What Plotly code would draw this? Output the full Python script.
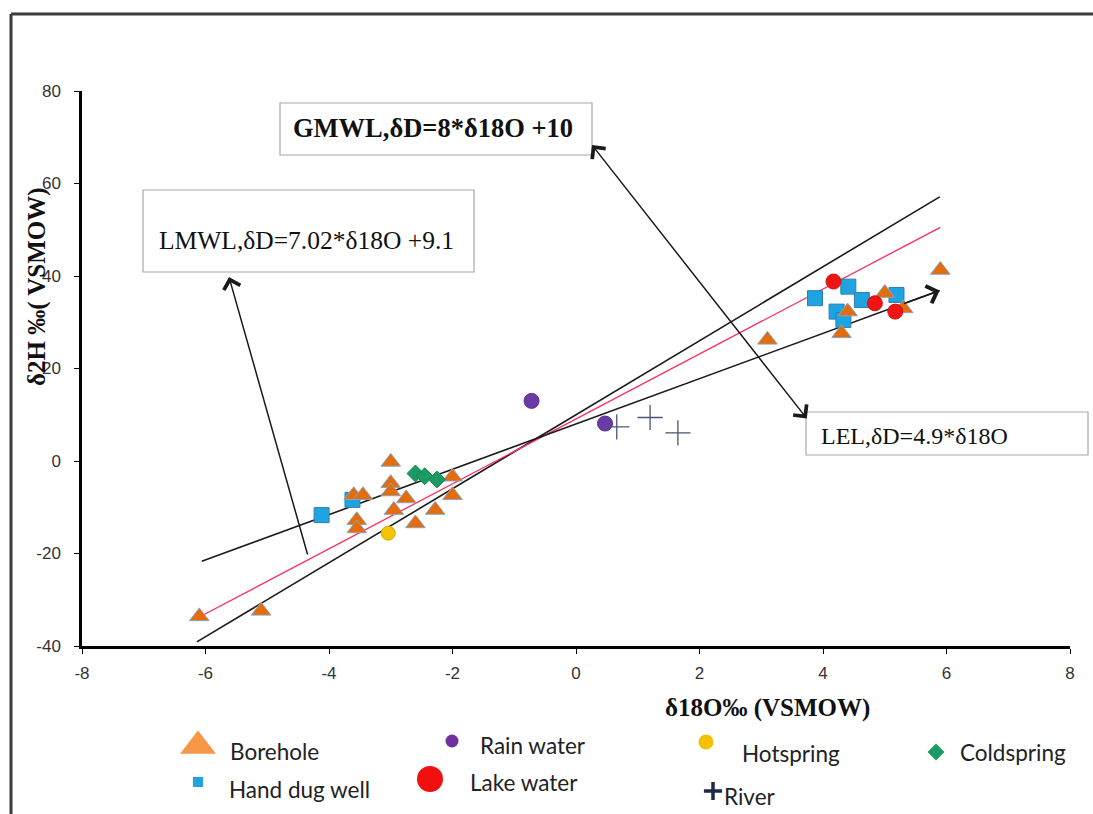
import plotly.graph_objects as go

W, H = 1093, 814

# ---- isotope data: δ18O (‰, x) and δ2H (‰, y) vs VSMOW ----
borehole_x = [-6.1, -5.1, -3.0, -3.0, -3.0, -3.6, -3.45, -2.75, -2.95, -3.55, -3.55, -2.6, -2.28, -2.0, -2.0,
              3.1, 4.3, 4.4, 5.0, 5.3, 5.9]
borehole_y = [-33.6, -32.4, -0.2, -4.8, -6.6, -7.4, -7.4, -8.1, -10.6, -12.8, -14.6, -13.5, -10.6, -3.4, -7.4,
              26.2, 27.6, 32.3, 36.3, 33.0, 41.3]

handdug_x = [-4.12, -3.62, 3.87, 4.22, 4.33, 4.41, 4.63, 5.19]
handdug_y = [-11.7, -8.4, 35.2, 32.3, 30.5, 37.7, 34.8, 35.9]

rain_x = [-0.72, 0.47]
rain_y = [13.0, 8.1]

lake_x = [4.17, 4.84, 5.17]
lake_y = [38.8, 34.1, 32.3]

hot_x = [-3.04]
hot_y = [-15.6]

cold_x = [-2.6, -2.45, -2.25]
cold_y = [-2.7, -3.3, -4.0]

river_x = [0.66, 1.2, 1.65]
river_y = [7.4, 9.4, 6.1]

# ---- water lines: δD = slope * δ18O + intercept ----
line_names = ["GMWL", "LMWL", "LEL"]
line_slopes = [8.0, 7.02, 4.9]
line_intercepts = [10.0, 9.1, 8.0]
line_x_start = [-6.14, -6.1, -6.06]
line_x_end = [5.89, 5.9, 5.89]

x_ticks = [-8, -6, -4, -2, 0, 2, 4, 6, 8]
x_tick_labels = ["-8", "-6", "-4", "-2", "0", "2", "4", "6", "8"]
y_ticks = [-40, -20, 0, 20, 40, 60, 80]
y_tick_labels = ["-40", "-20", "0", "20", "40", "60", "80"]

# plot-area frame in page pixels
PX_L, PX_R, PX_T, PX_B = 82, 1070, 91, 646

fig = go.Figure()

def add_series(name, xs, ys, symbol, size, color, edge, edge_w=1):
    fig.add_trace(go.Scatter(
        x=xs, y=ys, mode="markers", name=name, showlegend=False,
        marker=dict(symbol=symbol, size=size, color=color,
                    line=dict(color=edge, width=edge_w)),
        xaxis="x", yaxis="y"))

# regression / reference lines
line_colors = ["#1a1a1a", "#ff2a55", "#1a1a1a"]
line_widths = [1.6, 1.3, 1.6]
for nm, m, b, x0, x1, c, w in zip(line_names, line_slopes, line_intercepts,
                                  line_x_start, line_x_end, line_colors, line_widths):
    fig.add_trace(go.Scatter(x=[x0, x1], y=[m * x0 + b, m * x1 + b], mode="lines",
                             line=dict(color=c, width=w), showlegend=False,
                             hoverinfo="skip", xaxis="x", yaxis="y"))

add_series("Hand dug well", handdug_x, handdug_y, "square", 15, "#1ea4e0", "#2f7fae")
add_series("Rain water", rain_x, rain_y, "circle", 15, "#6a3aa8", "#5a3090")
add_series("Borehole", borehole_x, borehole_y, "triangle-up", 17, "#e46c0a", "#8aa2c2")
add_series("Lake water", lake_x, lake_y, "circle", 15, "#f01414", "#d01010")
add_series("Hotspring", hot_x, hot_y, "circle", 14, "#f4c400", "#d9a800")
add_series("Coldspring", cold_x, cold_y, "diamond", 13, "#1c9a64", "#178a58")
add_series("River", river_x, river_y, "cross-thin", 18, "#4a5575", "#4a5575", 1.3)

# arrowhead at the end of the LEL line
lel = line_names.index("LEL")
xe = line_x_end[lel]
xa = xe - 0.6
fig.add_annotation(x=xe, y=line_slopes[lel] * xe + line_intercepts[lel],
                   ax=xa, ay=line_slopes[lel] * xa + line_intercepts[lel],
                   xref="x", yref="y", axref="x", ayref="y", text="",
                   showarrow=True, arrowhead=4, arrowsize=2.2, arrowwidth=1.6,
                   arrowcolor="#1a1a1a")

# ---- manual legend, drawn on a pixel-space overlay axis ----
legend_labels = ["Borehole", "Rain water", "Hotspring", "Coldspring",
                 "Hand dug well", "Lake water", "River"]
legend_marker_xy = [(198, 746), (452, 741), (706, 742), (936, 752),
                    (198, 782), (430, 779), (713, 791)]
legend_text_xy = [(228, 751), (478, 745), (740, 753), (958, 752),
                  (227, 789), (468, 782), (722, 796)]
legend_styles = [("triangle-up", 31, "#f79646", 0),
                 ("circle", 13, "#7030a0", 0),
                 ("circle", 15, "#f2c200", 0),
                 ("diamond", 13, "#1c9a64", 0),
                 ("square", 10, "#1ea4e0", 0),
                 ("circle", 26, "#f01010", 0),
                 ("cross-thin", 13, "#1f2a4a", 3.5)]

for (mx, my), (sym, sz, col, lw) in zip(legend_marker_xy, legend_styles):
    fig.add_trace(go.Scatter(x=[mx], y=[my], mode="markers", showlegend=False,
                             hoverinfo="skip", xaxis="x2", yaxis="y2",
                             marker=dict(symbol=sym, size=sz, color=col,
                                         line=dict(color=col, width=lw))))
for (tx, ty), lab in zip(legend_text_xy, legend_labels):
    fig.add_annotation(x=tx, y=ty, xref="x2", yref="y2", text=lab, showarrow=False,
                       xanchor="left", yanchor="middle",
                       font=dict(family="Lato", size=22.5, color="#222222"))

# ---- equation boxes ----
boxes = [
    dict(x0=143, y0=190, x1=474, y1=272, tx=157, ty=240, size=25.5,
         text="LMWL,δD=7.02*δ18O +9.1"),
    dict(x0=280, y0=103, x1=592, y1=155, tx=291, ty=128, size=26.5,
         text="<b>GMWL,δD=8*δ18O +10</b>"),
    dict(x0=806, y0=412, x1=1088, y1=455, tx=819, ty=436, size=24,
         text="LEL,δD=4.9*δ18O"),
]
for b in boxes:
    fig.add_shape(type="rect", xref="x2", yref="y2", x0=b["x0"], y0=b["y0"],
                  x1=b["x1"], y1=b["y1"], line=dict(color="#a8a8a8", width=1.2),
                  fillcolor="white", layer="above")
    fig.add_annotation(x=b["tx"], y=b["ty"], xref="x2", yref="y2", text=b["text"],
                       showarrow=False, xanchor="left", yanchor="middle",
                       font=dict(family="Liberation Serif", size=b["size"], color="#111111"))

# pointer arrows from the lines to their boxes
fig.add_annotation(x=229, y=277, ax=308, ay=556, xref="x2", yref="y2",
                   axref="x2", ayref="y2", text="", showarrow=True,
                   arrowhead=4, arrowsize=2.2, arrowwidth=1.5, arrowcolor="#1a1a1a")
fig.add_annotation(x=592, y=145, ax=808, ay=420, xref="x2", yref="y2",
                   axref="x2", ayref="y2", text="", showarrow=True,
                   arrowside="end+start", arrowhead=4, startarrowhead=4,
                   arrowsize=2.2, startarrowsize=2.2, arrowwidth=1.5,
                   arrowcolor="#1a1a1a")

# axis titles
fig.add_annotation(x=767, y=708, xref="x2", yref="y2", text="<b>δ18O‰ (VSMOW)</b>",
                   showarrow=False, font=dict(family="Liberation Serif", size=25, color="#111111"))
fig.add_annotation(x=37, y=287, xref="x2", yref="y2", text="<b>δ2H ‰( VSMOW)</b>",
                   showarrow=False, textangle=-90,
                   font=dict(family="Liberation Serif", size=25, color="#111111"))

# outer frame (left and top edges)
fig.add_shape(type="line", xref="x2", yref="y2", x0=11, y0=14, x1=11, y1=H,
              line=dict(color="#3c3c3c", width=3), layer="above")
fig.add_shape(type="line", xref="x2", yref="y2", x0=11, y0=14, x1=W, y1=14,
              line=dict(color="#3c3c3c", width=3), layer="above")

tick_font = dict(family="Liberation Sans", size=17, color="#333333")
fig.update_layout(
    width=W, height=H,
    margin=dict(l=0, r=0, t=0, b=0),
    paper_bgcolor="white", plot_bgcolor="rgba(0,0,0,0)",
    showlegend=False,
    xaxis=dict(domain=[PX_L / W, PX_R / W], range=[-8, 8],
               tickvals=x_ticks, ticktext=x_tick_labels,
               showline=True, linecolor="black", linewidth=2.5, mirror=False,
               ticks="outside", ticklen=5, tickwidth=1, tickcolor="black",
               showgrid=False, zeroline=False, tickfont=tick_font,
               anchor="y", automargin=False, ticklabelstandoff=5),
    yaxis=dict(domain=[(H - PX_B) / H, (H - PX_T) / H], range=[-40, 80],
               tickvals=y_ticks, ticktext=y_tick_labels,
               showline=True, linecolor="black", linewidth=2.5,
               ticks="outside", ticklen=5, tickwidth=1, tickcolor="black",
               showgrid=False, zeroline=False, tickfont=tick_font,
               anchor="x", automargin=False, ticklabelstandoff=10),
    xaxis2=dict(domain=[0, 1], range=[0, W], visible=False, anchor="y2", fixedrange=True),
    yaxis2=dict(domain=[0, 1], range=[H, 0], visible=False, anchor="x2", fixedrange=True),
)

fig.write_html("out.html")
